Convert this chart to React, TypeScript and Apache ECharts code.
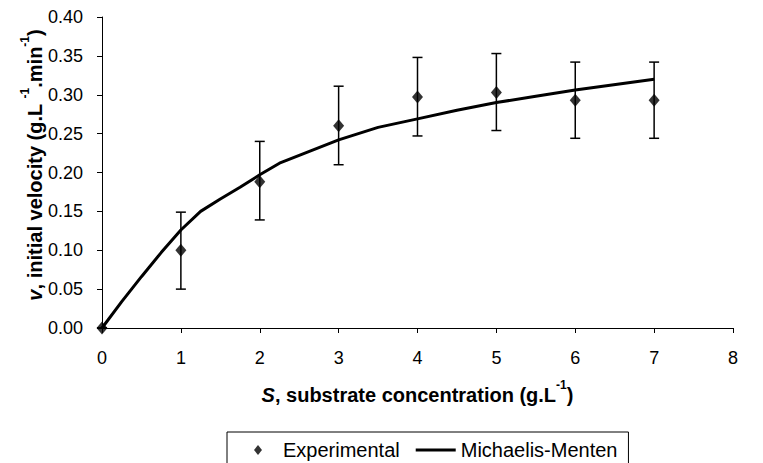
import React, { useEffect, useRef } from "react";
import * as echarts from "echarts";

const expS = [0, 1, 2, 3, 4, 5, 6, 7];
const expV = [0, 0.1, 0.188, 0.26, 0.297, 0.303, 0.293, 0.293];
const errLow = [0, 0.05, 0.139, 0.21, 0.247, 0.254, 0.244, 0.244];
const errHigh = [0, 0.149, 0.24, 0.311, 0.348, 0.353, 0.342, 0.342];

const curveS = [0, 0.25, 0.5, 0.75, 1, 1.25, 1.5, 1.75, 2, 2.25, 3, 3.5, 4, 4.5, 5, 5.5, 6, 7];
const curveV = [0, 0.034, 0.066, 0.097, 0.126, 0.15, 0.166, 0.181, 0.197, 0.212, 0.242, 0.258, 0.269, 0.28, 0.29, 0.298, 0.306, 0.32];

const FONT = "'Liberation Sans', Arial, sans-serif";

export default function App() {
  const ref = useRef<HTMLDivElement>(null);
  useEffect(() => {
    if (!ref.current) return;
    const chart = echarts.init(ref.current, null, { renderer: "svg" });
    const nameRich = {
      b: { fontFamily: FONT, fontWeight: "bold", fontSize: 20, color: "#000", fill: "#000", lineHeight: 26, verticalAlign: "bottom" },
      it: { fontFamily: FONT, fontWeight: "bold", fontStyle: "italic", fontSize: 20, color: "#000", fill: "#000", lineHeight: 26, verticalAlign: "bottom" },
      sup: { fontFamily: FONT, fontWeight: "bold", fontSize: 12, color: "#000", fill: "#000", verticalAlign: "top" },
    };
    const option: any = {
      animation: false,
      backgroundColor: "#fff",
      grid: { left: 102, right: 30, top: 17, bottom: 135, containLabel: false },
      graphic: [
        {
          type: "text",
          x: 32,
          y: 165,
          rotation: Math.PI / 2,
          style: {
            text: "{it|v}{b|, initial velocity (g.L }{sup|-1}{b|.min}{sup|-1}{b|)}",
            rich: nameRich,
            fill: "#000",
            align: "center",
            verticalAlign: "middle",
          },
        },
      ],
      xAxis: {
        type: "value",
        min: 0,
        max: 8,
        interval: 1,
        name: "{it|S}{b|, substrate concentration (g.L}{sup|-1}{b|)}",
        nameLocation: "middle",
        nameGap: 51,
        nameTextStyle: { rich: nameRich },
        axisLine: { show: true, lineStyle: { color: "#000", width: 1 } },
        axisTick: { show: true, length: 5, lineStyle: { color: "#000" } },
        axisLabel: { color: "#000", fontSize: 18, fontFamily: FONT, margin: 21 },
        splitLine: { show: false },
      },
      yAxis: {
        type: "value",
        min: 0,
        max: 0.4,
        interval: 0.05,
        axisLine: { show: true, lineStyle: { color: "#000", width: 1 } },
        axisTick: { show: true, length: 5, lineStyle: { color: "#000" } },
        axisLabel: {
          color: "#000",
          fontSize: 18,
          fontFamily: FONT,
          margin: 19,
          formatter: (v: number) => v.toFixed(2),
        },
        splitLine: { show: false },
      },
      legend: {
        left: 227,
        top: 432,
        orient: "horizontal",
        borderColor: "#000",
        borderWidth: 1,
        padding: [8, 11, 20, 27],
        itemWidth: 40,
        itemHeight: 10,
        itemGap: 16,
        symbolKeepAspect: true,
        textStyle: { color: "#000", fontSize: 20, fontFamily: FONT },
        data: [
          { name: "Experimental", icon: "path://M4,0L8,5L4,10L0,5Z", itemStyle: { color: "#000" } },
          { name: "Michaelis-Menten", icon: "path://M0,0L40,0L40,3L0,3Z", itemStyle: { color: "#000" } },
        ],
      },
      series: [
        {
          name: "Michaelis-Menten",
          type: "line",
          data: curveS.map((s, i) => [s, curveV[i]]),
          symbol: "none",
          smooth: false,
          lineStyle: { color: "#000", width: 3 },
          itemStyle: { color: "#000" },
          z: 3,
        },
        {
          name: "errors",
          type: "custom",
          data: expS.map((s, i) => [s, errLow[i], errHigh[i]]),
          renderItem: (params: any, api: any) => {
            const x = api.value(0);
            const lo = api.coord([x, api.value(1)]);
            const hi = api.coord([x, api.value(2)]);
            const style = { stroke: "#000", lineWidth: 1.5 };
            const w = 5;
            return {
              type: "group",
              children: [
                { type: "line", shape: { x1: lo[0], y1: lo[1], x2: hi[0], y2: hi[1] }, style },
                { type: "line", shape: { x1: hi[0] - w, y1: hi[1], x2: hi[0] + w, y2: hi[1] }, style },
                { type: "line", shape: { x1: lo[0] - w, y1: lo[1], x2: lo[0] + w, y2: lo[1] }, style },
              ],
            };
          },
          z: 2,
        },
        {
          name: "Experimental",
          type: "scatter",
          data: expS.map((s, i) => [s, expV[i]]),
          symbol: "diamond",
          symbolSize: [11, 13],
          itemStyle: { color: "#000" },
          z: 4,
        },
      ],
    };
    chart.setOption(option);
    return () => chart.dispose();
  }, []);
  return (
    <div
      ref={ref}
      style={{ position: "fixed", left: 0, top: 0, width: 763, height: 463, background: "#fff" }}
    />
  );
}
